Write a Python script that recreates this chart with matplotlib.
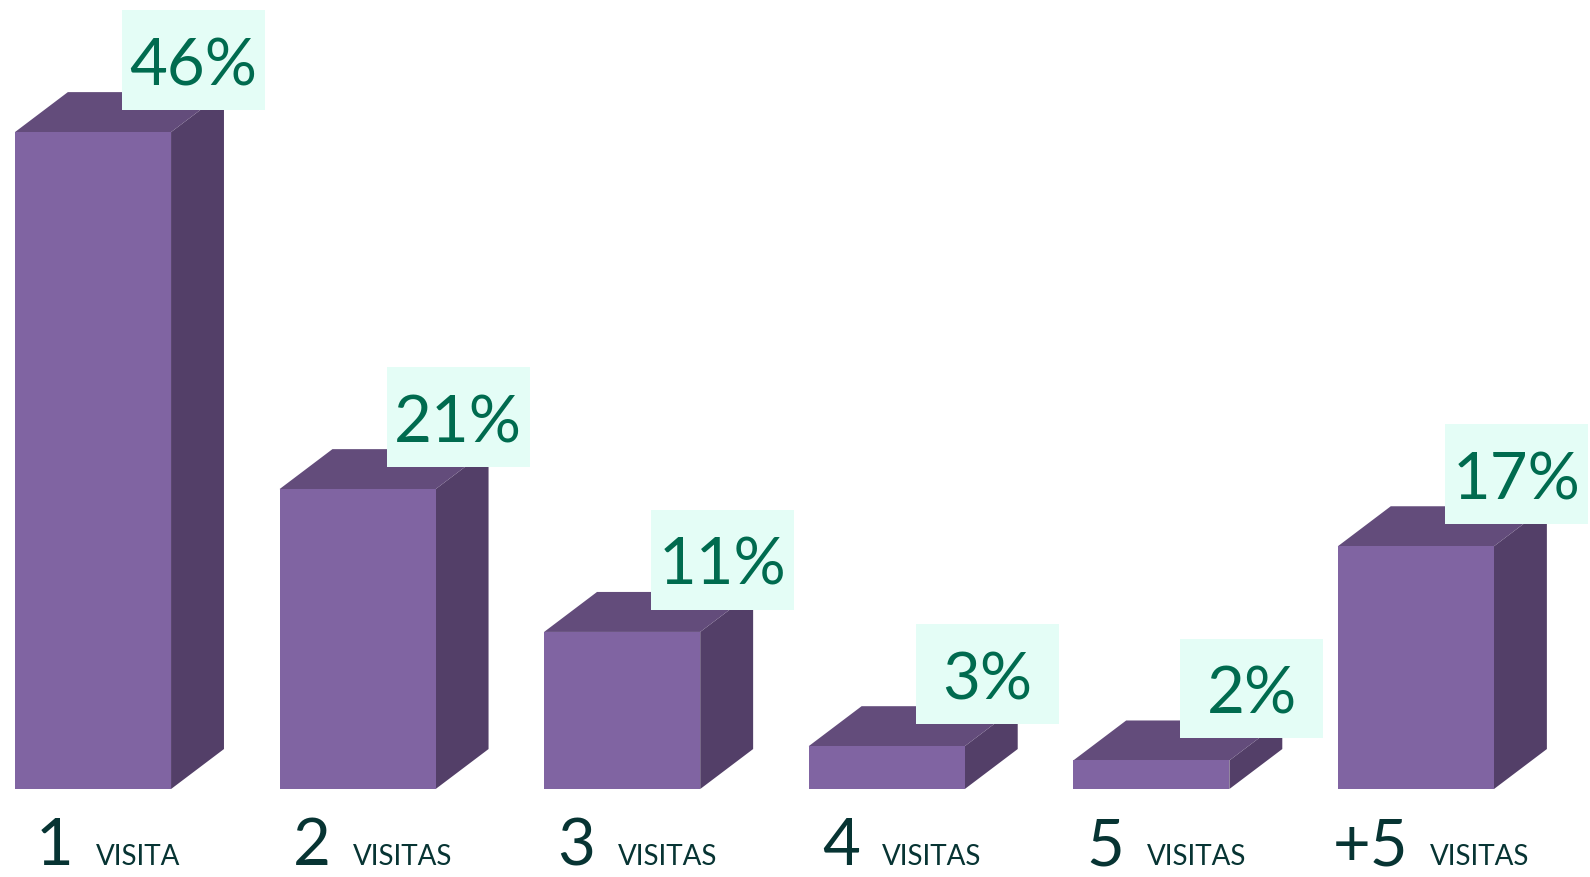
import matplotlib.pyplot as plt
from matplotlib.patches import Polygon, Rectangle
from matplotlib.offsetbox import TextArea, HPacker, AnnotationBbox

plt.rcParams['font.family'] = ['Lato', 'DejaVu Sans']

# data
numbers = ['1', '2', '3', '4', '5', '+5']
words = ['VISITA', 'VISITAS', 'VISITAS', 'VISITAS', 'VISITAS', 'VISITAS']
values = [46, 21, 11, 3, 2, 17]
pct_labels = ['46%', '21%', '11%', '3%', '2%', '17%']

front_col = '#8064A2'
top_col = '#634C7B'
side_col = '#533F68'
box_col = '#E4FDF6'
pct_col = '#006B4F'
lab_col = '#073433'

fig = plt.figure(figsize=(15.9, 8.77), dpi=100)
ax = fig.add_axes([0, 0, 1, 1])
ax.set_xlim(-0.3515, 5.658)
ax.set_ylim(-6.16, 55.25)
ax.axis('off')

width = 0.59
dx, dy = 0.2, 2.8   # depth of the fake 3d

x = list(range(len(values)))
ax.bar(x, values, width=width, color=front_col, zorder=2)

for i, v in enumerate(values):
    xl = i - width / 2
    xr = i + width / 2
    # side
    ax.add_patch(Polygon([(xr, 0), (xr + dx, dy), (xr + dx, v + dy), (xr, v)],
                         closed=True, facecolor=side_col, edgecolor='none', zorder=1))
    # top
    ax.add_patch(Polygon([(xl, v), (xl + dx, v + dy), (xr + dx, v + dy), (xr, v)],
                         closed=True, facecolor=top_col, edgecolor='none', zorder=1))
    # value label in a box
    bx = i + 0.11
    by = v + 1.54
    ax.add_patch(Rectangle((bx, by), 0.54, 7.0, facecolor=box_col,
                           edgecolor='none', zorder=3))
    ax.text(bx + 0.27, by + 1.75, pct_labels[i], fontsize=47, color=pct_col,
            ha='center', va='baseline', zorder=4)
    # category label
    num = TextArea(numbers[i], textprops=dict(fontsize=47, color=lab_col))
    wrd = TextArea(words[i], textprops=dict(fontsize=20, color=lab_col))
    pack = HPacker(children=[num, wrd], align='baseline', pad=0, sep=16)
    ab = AnnotationBbox(pack, (i + 0.057, -6.1), frameon=False,
                        box_alignment=(0.5, 0.0), pad=0, annotation_clip=False)
    ax.add_artist(ab)

fig.savefig('out.png', dpi=100)
